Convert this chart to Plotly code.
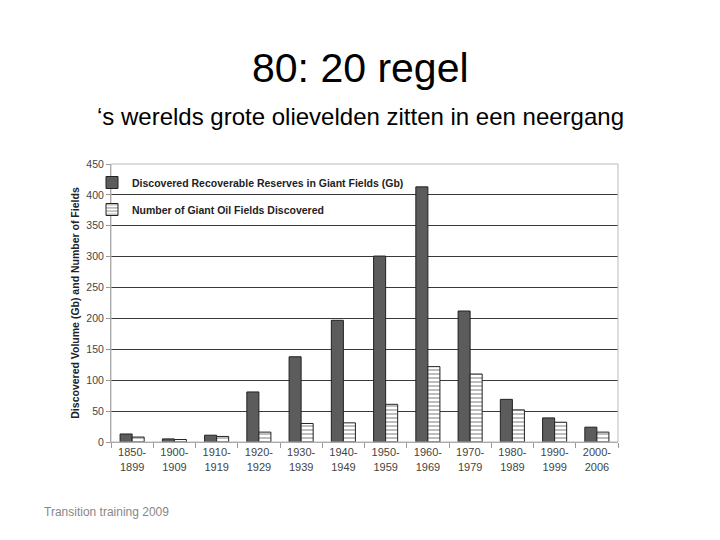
import plotly.graph_objects as go

categories = ["1850-<br>1899", "1900-<br>1909", "1910-<br>1919", "1920-<br>1929", "1930-<br>1939",
              "1940-<br>1949", "1950-<br>1959", "1960-<br>1969", "1970-<br>1979", "1980-<br>1989",
              "1990-<br>1999", "2000-<br>2006"]
reserves_gb = [13, 5, 11, 81, 138, 197, 301, 413, 212, 69, 39, 24]
giant_fields = [8, 4, 9, 16, 30, 31, 61, 122, 110, 52, 32, 16]

FONT = "Liberation Sans, Arial, sans-serif"

# page body has an 8px offset; margins compensate so the plot sits where the reference has it
OFF = 8
L, R, T, B = 111 - OFF, 720 - 618 + OFF, 164 - OFF, 540 - 442 + OFF

fig = go.Figure()
fig.add_trace(go.Bar(
    x=categories, y=reserves_gb,
    name="<b>Discovered Recoverable Reserves in Giant Fields (Gb)</b>",
    legendgroup="a",
    marker=dict(color="#5c5c5c", line=dict(color="#222", width=1)),
))
fig.add_trace(go.Bar(
    x=categories, y=giant_fields,
    name="<b>Number of Giant Oil Fields Discovered</b>",
    legendgroup="b",
    marker=dict(color="white", line=dict(color="#222", width=1),
                pattern=dict(shape="-", fgcolor="#222", bgcolor="white", size=4, solidity=0.3)),
))

plot_h = 540 - T - B
plot_w = 720 - L - R
def py(px):
    return (540 - B - (px - OFF)) / plot_h
def pxx(px):
    return (px - OFF - L) / plot_w

fig.update_layout(
    width=720, height=540,
    paper_bgcolor="white", plot_bgcolor="white",
    margin=dict(l=L, r=R, t=T, b=B),
    barmode="group", bargap=0.43, bargroupgap=0,
    font=dict(family=FONT, color="#333"),
    showlegend=True,
    legend=dict(x=pxx(92), y=py(168), xanchor="left", yanchor="top",
                font=dict(size=10.5, color="#222", family=FONT),
                bgcolor="rgba(0,0,0,0)", tracegroupgap=8, itemwidth=30),
    xaxis=dict(tickfont=dict(size=11, color="#444"), showline=True, linecolor="#999",
               ticks="outside", tickson="boundaries", ticklen=5, tickcolor="#999",
               mirror=False),
    yaxis=dict(range=[0, 450], dtick=50, tickfont=dict(size=10.5, color="#444"),
               showgrid=True, gridcolor="#3a3a3a", gridwidth=1,
               showline=True, linecolor="#999", ticks="outside", ticklen=4, tickcolor="#999",
               zeroline=False,
               title=dict(text="<b>Discovered Volume (Gb) and Number of Fields</b>",
                          font=dict(size=10.5, color="#222"), standoff=4)),
    shapes=[dict(type="rect", xref="paper", yref="paper", x0=0, x1=1, y0=0, y1=1,
                 line=dict(color="#bbb", width=1), fillcolor="rgba(0,0,0,0)", layer="above")],
    annotations=[
        dict(text="80: 20 regel", x=pxx(360), y=py(68), xref="paper", yref="paper",
             showarrow=False, xanchor="center", yanchor="middle",
             font=dict(size=41, color="black", family=FONT)),
        dict(text="‘s werelds grote olievelden zitten in een neergang", x=pxx(360), y=py(117),
             xref="paper", yref="paper", showarrow=False, xanchor="center", yanchor="middle",
             font=dict(size=24, color="black", family=FONT)),
        dict(text="Transition training 2009", x=pxx(42), y=py(512), xref="paper", yref="paper",
             showarrow=False, xanchor="left", yanchor="middle",
             font=dict(size=12, color="#888", family=FONT)),
    ],
)

fig.write_html("out.html")
